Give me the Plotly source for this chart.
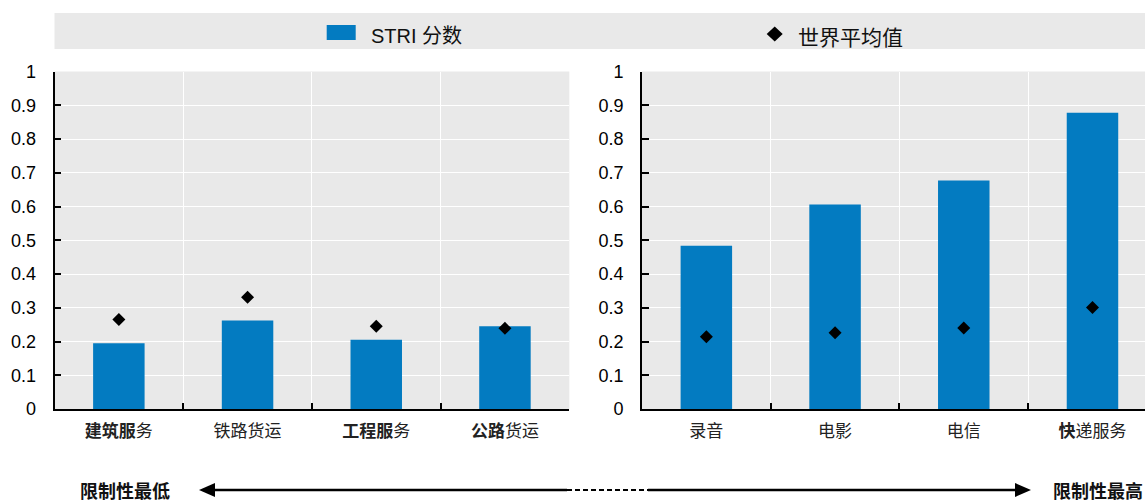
import plotly.graph_objects as go

# ---------------- data ----------------
left_categories = ["建筑服务", "铁路货运", "工程服务", "公路货运"]
left_labels = ["<b>建筑服</b>务", "铁路货运", "<b>工程服</b>务", "<b>公路</b>货运"]
left_stri = [0.195, 0.262, 0.205, 0.245]
left_world_avg = [0.265, 0.331, 0.245, 0.239]

right_categories = ["录音", "电影", "电信", "快递服务"]
right_labels = ["录音", "电影", "电信", "<b>快</b>递服务"]
right_stri = [0.484, 0.606, 0.677, 0.878]
right_world_avg = [0.214, 0.226, 0.240, 0.301]

y_tickvals = [0, 0.1, 0.2, 0.3, 0.4, 0.5, 0.6, 0.7, 0.8, 0.9, 1]
y_ticktext = ["0", "0.1", "0.2", "0.3", "0.4", "0.5", "0.6", "0.7", "0.8", "0.9", "1"]

legend_bar = "STRI 分数"
legend_avg = "世界平均值"
arrow_left_text = "限制性最低"
arrow_right_text = "限制性最高"

# ---------------- style ----------------
W, H = 1145, 502
BLUE = "#037bc1"
BG = "#e9e9e9"
NUM_FONT = "Liberation Sans Narrow, Arial Narrow, Liberation Sans, Noto Sans CJK SC"
CJK_FONT = "Noto Sans CJK SC, Liberation Sans"


def px(x):
    return x / W


def py(y):
    return 1 - y / H


fig = go.Figure()

fig.add_trace(go.Bar(x=left_categories, y=left_stri, width=0.4, name=legend_bar,
                     marker=dict(color=BLUE, line=dict(width=0)), xaxis="x", yaxis="y", showlegend=False))
fig.add_trace(go.Scatter(x=left_categories, y=left_world_avg, mode="markers", name=legend_avg,
                         marker=dict(symbol="diamond", size=10, color="black", line=dict(width=0)),
                         xaxis="x", yaxis="y", showlegend=False))
fig.add_trace(go.Bar(x=right_categories, y=right_stri, width=0.4, name=legend_bar,
                     marker=dict(color=BLUE, line=dict(width=0)), xaxis="x2", yaxis="y2", showlegend=False))
fig.add_trace(go.Scatter(x=right_categories, y=right_world_avg, mode="markers", name=legend_avg,
                         marker=dict(symbol="diamond", size=10, color="black", line=dict(width=0)),
                         xaxis="x2", yaxis="y2", showlegend=False))

ydom = [py(409), py(71.5)]

xcommon = dict(type="category", tickson="boundaries", ticks="inside", ticklen=6,
               tickcolor="black", tickwidth=1.5, showgrid=True, gridcolor="white", gridwidth=1.3,
               showline=True, linecolor="black", linewidth=1.6, zeroline=False,
               tickfont=dict(family=CJK_FONT, size=17, color="#222222"),
               ticklabelstandoff=6, fixedrange=True, automargin=False)
ycommon = dict(range=[0, 1], tickvals=y_tickvals, ticktext=y_ticktext, ticks="inside", ticklen=7,
               tickcolor="black", tickwidth=1.5, showgrid=True, gridcolor="white", gridwidth=1.3,
               showline=True, linecolor="black", linewidth=1.6, zeroline=False,
               tickfont=dict(family=NUM_FONT, size=18, color="black"),
               ticklabelstandoff=13, domain=ydom, fixedrange=True, automargin=False)

fig.update_layout(
    template="none",
    width=W, height=H, autosize=False,
    margin=dict(l=0, r=0, t=0, b=0, pad=0, autoexpand=False),
    paper_bgcolor="white", plot_bgcolor=BG,
    showlegend=False,
    xaxis=dict(domain=[px(54.5), px(569.3)], range=[-0.5, 3.5],
               tickvals=left_categories, ticktext=left_labels, anchor="y", **xcommon),
    yaxis=dict(anchor="x", **ycommon),
    xaxis2=dict(domain=[px(642), 1], range=[-0.5, 3.408],
                tickvals=right_categories, ticktext=right_labels, anchor="y2", **xcommon),
    yaxis2=dict(anchor="x2", **ycommon),
)

shapes = []
# legend band
shapes.append(dict(type="rect", xref="paper", yref="paper", x0=px(54.5), x1=1, y0=py(49), y1=py(13),
                   fillcolor=BG, line=dict(width=0), layer="below"))
# legend bar key
shapes.append(dict(type="rect", xref="paper", yref="paper", x0=px(326.7), x1=px(355.7), y0=py(40), y1=py(25),
                   fillcolor=BLUE, line=dict(width=0)))
# legend diamond key
cx, cy = 774.7, 34
shapes.append(dict(type="path", xref="paper", yref="paper",
                   path=f"M {px(cx-8)} {py(cy)} L {px(cx)} {py(cy-7.5)} L {px(cx+8)} {py(cy)} L {px(cx)} {py(cy+7.5)} Z",
                   fillcolor="black", line=dict(width=0)))
# bottom arrow
ay = 490
shapes.append(dict(type="line", xref="paper", yref="paper", x0=px(212), x1=px(567), y0=py(ay), y1=py(ay),
                   line=dict(color="black", width=2.5)))
shapes.append(dict(type="line", xref="paper", yref="paper", x0=px(567), x1=px(648), y0=py(ay), y1=py(ay),
                   line=dict(color="black", width=2, dash="5px,3px")))
shapes.append(dict(type="line", xref="paper", yref="paper", x0=px(648), x1=px(1018), y0=py(ay), y1=py(ay),
                   line=dict(color="black", width=2.5)))
shapes.append(dict(type="path", xref="paper", yref="paper",
                   path=f"M {px(199)} {py(ay)} L {px(215)} {py(ay-7)} L {px(215)} {py(ay+7)} Z",
                   fillcolor="black", line=dict(width=0)))
shapes.append(dict(type="path", xref="paper", yref="paper",
                   path=f"M {px(1031)} {py(ay)} L {px(1015)} {py(ay-7)} L {px(1015)} {py(ay+7)} Z",
                   fillcolor="black", line=dict(width=0)))
fig.update_layout(shapes=shapes)

annotations = [
    dict(xref="paper", yref="paper", x=px(369), y=py(36), xanchor="left", yanchor="middle",
         text=legend_bar, showarrow=False, font=dict(family=NUM_FONT, size=20, color="#111111")),
    dict(xref="paper", yref="paper", x=px(796), y=py(36), xanchor="left", yanchor="middle",
         text=legend_avg, showarrow=False, font=dict(family=CJK_FONT, size=21, color="#111111")),
    dict(xref="paper", yref="paper", x=px(78), y=py(ay), xanchor="left", yanchor="middle",
         text=f"<b>{arrow_left_text}</b>", showarrow=False,
         font=dict(family=CJK_FONT, size=18, color="#111111")),
    dict(xref="paper", yref="paper", x=1, y=py(ay), xanchor="right", yanchor="middle",
         text=f"<b>{arrow_right_text}</b>", showarrow=False,
         font=dict(family=CJK_FONT, size=18, color="#111111")),
]
fig.update_layout(annotations=annotations)

fig.write_html("out.html", config={"displayModeBar": False},
               post_script="document.body.style.margin='0';document.body.style.overflow='hidden';")
